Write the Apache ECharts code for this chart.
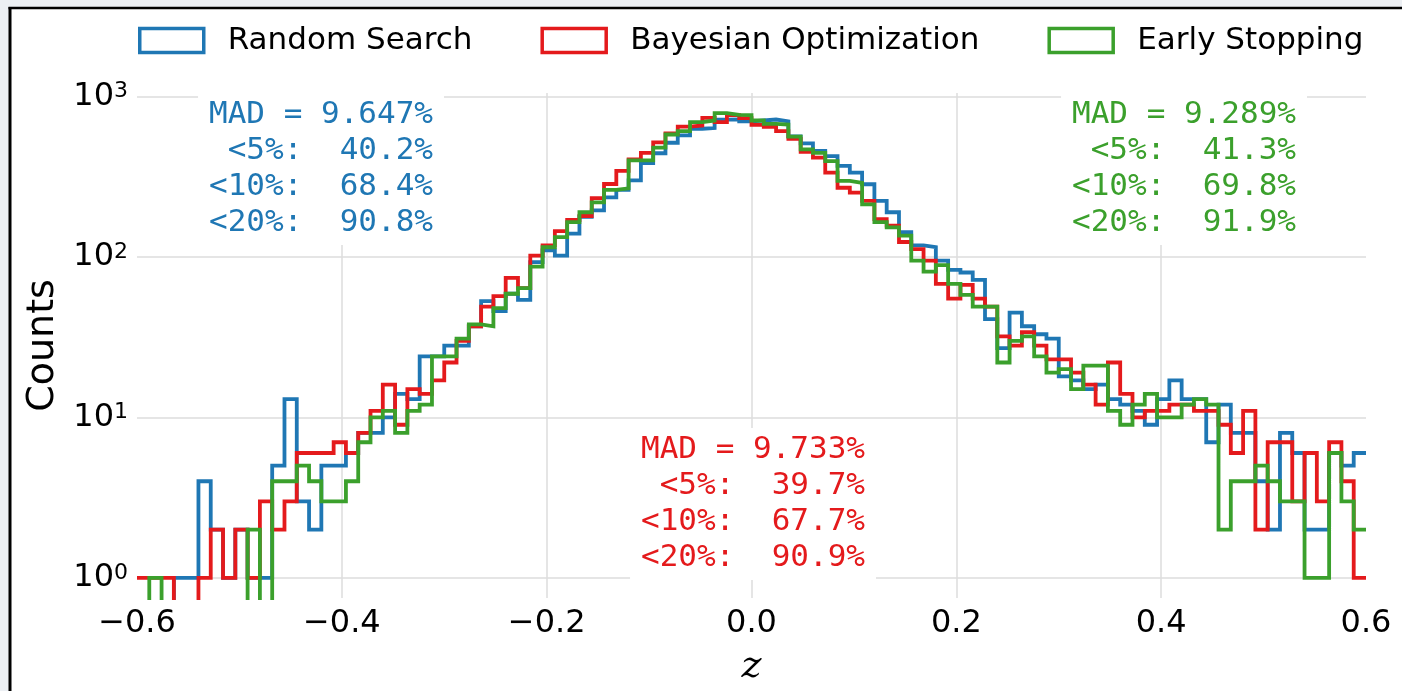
<!DOCTYPE html>
<html>
<head>
<meta charset="utf-8">
<title>Histogram of z</title>
<script src="https://cdn.jsdelivr.net/npm/echarts@6/dist/echarts.min.js"></script>
<style>
  html, body { margin: 0; padding: 0; background: #fff; }
  #main { width: 1402px; height: 691px; }
</style>
</head>
<body>
<div id="main"></div>
<script type="text/javascript">
// histogram bins: 100 bins of width 0.012 from -0.6 to 0.6
var xMin = -0.6;
var binWidth = 0.012;
var binCount = 100;

var seriesNames = ['Random Search', 'Bayesian Optimization', 'Early Stopping'];
var seriesColors = ['#1f77b4', '#e41a1c', '#3ba02c'];

// counts per bin
var randomSearch = [0, 0, 0, 1, 1, 4, 2, 1, 2, 1,
  1, 5, 13, 3, 2, 5, 5, 6, 8, 8,
  10, 14, 13, 24, 24, 28, 28, 37, 53, 46,
  59, 54, 93, 110, 102, 140, 178, 195, 235, 262,
  300, 385, 443, 515, 572, 630, 636, 718, 721, 700,
  709, 719, 700, 565, 511, 458, 425, 370, 336, 284,
  224, 190, 143, 118, 115, 95, 83, 80, 72, 41,
  27, 45, 37, 33, 31, 18, 17, 15, 16, 13,
  12, 11, 9, 13, 17, 13, 13, 7, 12, 8,
  8, 4, 2, 8, 6, 2, 2, 6, 5, 6];

var bayesOpt = [1, 1, 1, 0, 0, 1, 2, 1, 2, 1,
  3, 2, 3, 6, 6, 6, 7, 6, 8, 11,
  16, 9, 15, 14, 17, 22, 30, 37, 49, 57,
  74, 64, 102, 118, 145, 170, 180, 233, 285, 344,
  405, 446, 518, 590, 650, 660, 736, 692, 766, 733,
  666, 647, 608, 545, 452, 416, 336, 270, 252, 224,
  172, 157, 124, 112, 95, 68, 55, 67, 55, 49,
  32, 28, 34, 28, 23, 23, 19, 16, 12, 22,
  14, 10, 11, 11, 12, 12, 11, 11, 9, 6,
  11, 2, 7, 7, 3, 6, 3, 7, 4, 1];

var earlyStop = [0, 1, 0, 0, 0, 0, 0, 0, 0, 2,
  0, 4, 4, 5, 4, 3, 3, 4, 7, 10,
  11, 8, 11, 12, 24, 24, 31, 38, 37, 48,
  59, 64, 87, 115, 133, 165, 190, 219, 262, 268,
  400, 400, 480, 580, 608, 692, 709, 788, 768, 766,
  709, 676, 669, 562, 468, 446, 396, 298, 290, 213,
  165, 153, 136, 95, 81, 89, 68, 58, 49, 49,
  22, 30, 32, 24, 19, 20, 15, 21, 21, 11,
  9, 12, 14, 10, 10, 12, 13, 12, 2, 4,
  4, 5, 4, 3, 3, 1, 1, 6, 3, 2];

// annotation texts
var statsRandom = ['MAD = 9.647%', ' <5%:  40.2%', '<10%:  68.4%', '<20%:  90.8%'];
var statsBayes = ['MAD = 9.733%', ' <5%:  39.7%', '<10%:  67.7%', '<20%:  90.9%'];
var statsEarly = ['MAD = 9.289%', ' <5%:  41.3%', '<10%:  69.8%', '<20%:  91.9%'];

var xTicks = [-0.6, -0.4, -0.2, 0.0, 0.2, 0.4, 0.6];
var yMin = 0.749, yMax = 1052;
var emptyBin = 0.1; // empty bins drop below the axis floor, like log-scale clipping

var binEdges = [];
for (var i = 0; i <= binCount; i++) {
  binEdges.push(+(xMin + i * binWidth).toFixed(3));
}

function stepData(counts) {
  var pts = [];
  for (var i = 0; i < counts.length; i++) {
    pts.push([binEdges[i], counts[i] > 0 ? counts[i] : emptyBin]);
  }
  var last = counts[counts.length - 1];
  pts.push([binEdges[counts.length], last > 0 ? last : emptyBin]);
  return pts;
}

var allCounts = [randomSearch, bayesOpt, earlyStop];
var series = [];
for (var s = 0; s < 3; s++) {
  series.push({
    name: seriesNames[s],
    type: 'line',
    step: 'end',
    data: stepData(allCounts[s]),
    showSymbol: false,
    symbol: 'none',
    clip: true,
    lineStyle: { color: seriesColors[s], width: 3.8, join: 'miter', cap: 'butt' },
    itemStyle: { color: seriesColors[s] },
    z: 2 + s
  });
}

function statBox(lines, color, right, top) {
  return {
    type: 'text',
    x: right,
    y: top,
    z: 50,
    style: {
      text: lines.join('\n'),
      font: '31px "DejaVu Sans Mono"',
      fill: color,
      align: 'right',
      verticalAlign: 'top',
      lineHeight: 36,
      backgroundColor: '#fff',
      padding: [4, 11]
    }
  };
}

var myChart = echarts.init(document.getElementById('main'));
myChart.setOption({
  backgroundColor: '#fff',
  animation: false,
  textStyle: { fontFamily: 'DejaVu Sans' },
  legend: {
    left: 138,
    top: 25,
    padding: 0,
    itemGap: 68,
    itemWidth: 64,
    itemHeight: 24,
    icon: 'rect',
    textStyle: { fontSize: 31, color: '#000', fontFamily: 'DejaVu Sans', padding: [0, 0, 0, 19] },
    data: seriesNames.map(function (n, k) {
      return { name: n, itemStyle: { color: 'rgba(0,0,0,0)', borderColor: seriesColors[k], borderWidth: 3.5 } };
    })
  },
  grid: { left: 137, right: 36, top: 93, bottom: 89 },
  xAxis: {
    type: 'value',
    min: xTicks[0],
    max: xTicks[xTicks.length - 1],
    interval: 0.2,
    name: 'z',
    nameLocation: 'middle',
    nameGap: 50,
    nameTextStyle: { fontFamily: 'DejaVu Serif', fontStyle: 'italic', fontSize: 38, color: '#000' },
    axisLine: { show: false },
    axisTick: { show: false },
    axisLabel: {
      fontSize: 32,
      color: '#000',
      margin: 10,
      formatter: function (v) {
        if (Math.abs(v) < 1e-9) return '0.0';
        return v.toFixed(1).replace('-', '\u2212');
      }
    },
    splitLine: { show: true, showMinLine: false, showMaxLine: false, lineStyle: { color: '#dcdcdc', width: 1.5 } }
  },
  yAxis: {
    type: 'log',
    logBase: 10,
    min: yMin,
    max: yMax,
    name: 'Counts',
    nameLocation: 'middle',
    nameGap: 75,
    nameTextStyle: { fontSize: 38, color: '#000', fontFamily: 'DejaVu Sans' },
    axisLine: { show: false },
    axisTick: { show: false },
    minorTick: { show: false },
    axisLabel: {
      fontSize: 32,
      color: '#000',
      margin: 9,
      showMinLabel: false,
      showMaxLabel: false,
      formatter: function (v) {
        return '10{sup|' + Math.round(Math.log(v) / Math.LN10) + '}';
      },
      rich: {
        sup: { fontSize: 22, color: '#000', fontFamily: 'DejaVu Sans', padding: [0, 0, 10, 0] }
      }
    },
    splitLine: { show: true, showMinLine: false, showMaxLine: false, lineStyle: { color: '#dcdcdc', width: 1.5 } }
  },
  graphic: [
    // figure frame, as in the cropped screenshot
    { type: 'rect', z: 60, shape: { x: 0, y: 0, width: 1402, height: 7 }, style: { fill: '#eceff3' } },
    { type: 'rect', z: 60, shape: { x: 0, y: 0, width: 9, height: 691 }, style: { fill: '#eceff3' } },
    { type: 'line', z: 61, shape: { x1: 8.5, y1: 8, x2: 1402, y2: 8 }, style: { stroke: '#000', lineWidth: 2.5 } },
    { type: 'line', z: 61, shape: { x1: 10, y1: 7, x2: 10, y2: 691 }, style: { stroke: '#000', lineWidth: 3 } },
    statBox(statsRandom, seriesColors[0], 444, 93),
    statBox(statsBayes, seriesColors[1], 876, 428),
    statBox(statsEarly, seriesColors[2], 1307, 93)
  ],
  series: series
});
</script>
</body>
</html>
